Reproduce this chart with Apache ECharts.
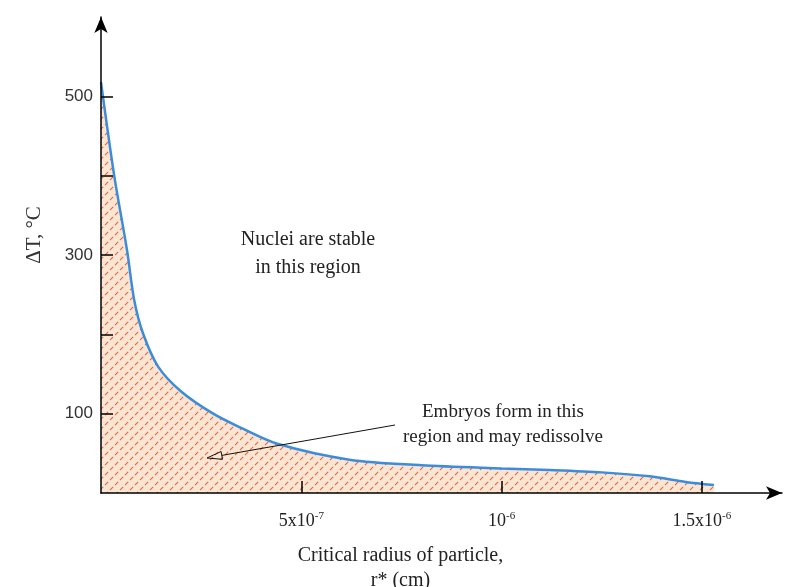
<!DOCTYPE html>
<html lang="en">
<head>
    <meta charset="UTF-8">
    <title>Critical radius</title>
    <style>
        html, body { margin: 0; padding: 0; background: #fff; }
        #main { width: 793px; height: 587px; }
    </style>
    <script src="https://cdn.jsdelivr.net/npm/echarts@6/dist/echarts.min.js"></script>
</head>
<body>

    <div id="main"></div>

    <script>
        // radius in units of 1e-7 cm, undercooling in deg C
        const radius = [0, 0.33, 0.65, 0.83, 1.05, 1.43, 2.0, 2.8, 3.5, 4.4, 6.2, 8.0, 10.0, 11.2, 12.5, 13.7, 14.6, 15.3];
        const deltaT = [518, 400, 306, 243, 201, 159, 128, 100, 82, 62, 42, 35, 31, 29, 26, 21, 14, 10];

        const xTickValues = [5, 10, 15];
        const xTickLabels = ['5x10{s|-7}', '10{s|-6}', '1.5x10{s|-6}'];
        const yTickValues = [100, 200, 300, 400, 500];
        const yLabelValues = [100, 300, 500];

        // hatch pattern for the area under the curve
        let hatch = document.createElement('canvas');
        hatch.width = 10;
        hatch.height = 10;
        let hctx = hatch.getContext('2d');
        hctx.fillStyle = '#fde5d4';
        hctx.fillRect(0, 0, 10, 10);
        hctx.strokeStyle = '#dd6a40';
        hctx.lineWidth = 1.1;
        hctx.setLineDash([4.5, 2.55]);
        hctx.beginPath();
        hctx.moveTo(0, 10); hctx.lineTo(10, 0);
        hctx.moveTo(-5, 5); hctx.lineTo(5, -5);
        hctx.moveTo(5, 15); hctx.lineTo(15, 5);
        hctx.stroke();

        let chartDom = document.getElementById('main');
        let myChart = echarts.init(chartDom);
        let option;

        let serif = '"Liberation Serif", "Times New Roman", serif';

        option = {
            animation: false,
            grid: { left: 101, right: 11, top: 17, bottom: 94, outerBoundsMode: 'none', containLabel: false },
            xAxis: {
                type: 'value',
                min: 0,
                max: 17,
                z: 5,
                splitLine: { show: false },
                name: 'Critical radius of particle,\nr* (cm)',
                nameLocation: 'middle',
                nameGap: 50,
                nameTextStyle: {
                    fontFamily: serif, fontSize: 20, color: '#222',
                    lineHeight: 25, padding: [0, 82, 0, 0]
                },
                axisLine: {
                    onZero: false,
                    symbol: ['none', 'arrow'],
                    symbolSize: [10, 16],
                    lineStyle: { color: '#000', width: 1.5 }
                },
                axisTick: {
                    inside: true, length: 12, customValues: xTickValues,
                    lineStyle: { color: '#000', width: 1.5 }
                },
                axisLabel: {
                    customValues: xTickValues,
                    margin: 18,
                    fontFamily: serif, fontSize: 18, color: '#222',
                    formatter: function (v) {
                        return xTickLabels[xTickValues.indexOf(v)];
                    },
                    rich: {
                        s: { fontFamily: serif, fontSize: 11, color: '#222', verticalAlign: 'top', padding: [0, 0, 10, 0] }
                    }
                }
            },
            yAxis: {
                type: 'value',
                min: 0,
                max: 600,
                z: 5,
                splitLine: { show: false },
                name: 'ΔT, °C',
                nameLocation: 'middle',
                nameRotate: 90,
                nameGap: 56,
                nameTextStyle: {
                    fontFamily: serif, fontSize: 21, color: '#333',
                    padding: [0, 0, 0, 40]
                },
                axisLine: {
                    onZero: false,
                    symbol: ['none', 'arrow'],
                    symbolSize: [10, 16],
                    lineStyle: { color: '#000', width: 1.5 }
                },
                axisTick: {
                    inside: true, length: 12, customValues: yTickValues,
                    lineStyle: { color: '#000', width: 1.5 }
                },
                axisLabel: {
                    customValues: yLabelValues,
                    margin: 8,
                    fontFamily: '"Liberation Sans", Arial, sans-serif',
                    fontSize: 17, color: '#333'
                }
            },
            series: [{
                type: 'line',
                data: radius.map((r, i) => [r, deltaT[i]]),
                showSymbol: false,
                smooth: 0.3,
                lineStyle: { color: '#3b8ddb', width: 2.5 },
                areaStyle: {
                    color: { image: hatch, repeat: 'repeat' },
                    opacity: 1
                },
                z: 2
            }],
            graphic: [
                {
                    type: 'text', x: 308, y: 254,
                    style: {
                        text: 'Nuclei are stable\nin this region',
                        font: '20px ' + serif, fill: '#222',
                        align: 'center', verticalAlign: 'middle', lineHeight: 28
                    }
                },
                {
                    type: 'text', x: 503, y: 425,
                    style: {
                        text: 'Embryos form in this\nregion and may redissolve',
                        font: '19px ' + serif, fill: '#222',
                        align: 'center', verticalAlign: 'middle', lineHeight: 25
                    }
                },
                {
                    type: 'line', z: 10,
                    shape: { x1: 395, y1: 425, x2: 221.8, y2: 455.4 },
                    style: { stroke: '#111', lineWidth: 1 }
                },
                {
                    type: 'polygon', z: 10,
                    shape: { points: [[207, 458], [222.5, 459.3], [221.1, 451.5]] },
                    style: { stroke: '#111', lineWidth: 1, fill: 'none' }
                }
            ]
        };

        option && myChart.setOption(option);
    </script>

</body>
</html>
